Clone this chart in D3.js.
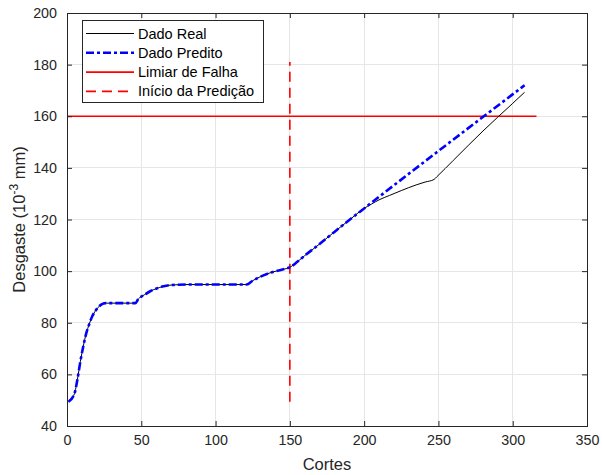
<!DOCTYPE html>
<html><head><meta charset="utf-8">
<script src="https://cdn.jsdelivr.net/npm/d3@7"></script>
<style>
body{margin:0;background:#fff;}
text{font-family:"Liberation Sans",Arial,Helvetica,sans-serif;fill:#262626;}
</style></head>
<body>
<svg id="c" width="602" height="475"></svg>
<script>
// Dado Real
const realX = [1,5,7,9,11,13,15,17,19,21,23,26,46,48,52,56,60,65,70,80,121,125,130,135,140,145,150,155,160,170,180,190,200,205,210,217,225,235,241,247,249,260,280,300,308];
const realY = [49.4,52.5,58,65,71,76,79.5,82.5,84.5,86,87,87.6,87.6,89.2,90.8,92.2,93.2,94.1,94.6,94.8,94.8,96.3,97.8,99,99.9,100.6,101.5,103.6,106,110.5,115.2,119.8,124.3,126,127.6,129.3,131.2,133.4,134.5,135.5,136.6,142.9,154.3,165.0,169.3];
// Dado Predito
const predX = [1,5,7,9,11,13,15,17,19,21,23,26,46,48,52,56,60,65,70,80,121,125,130,135,140,145,150,155,160,170,180,190,200,308];
const predY = [49.4,52.5,58,65,71,76,79.5,82.5,84.5,86,87,87.6,87.6,89.2,90.8,92.2,93.2,94.1,94.6,94.8,94.8,96.3,97.8,99,99.9,100.6,101.5,103.6,106,110.5,115.2,119.8,124.3,172];
// Limiar de Falha
const limiarX = [0,316];
const limiarY = [160,160];
// Início da Predição
const inicioX = [150,150];
const inicioY = [49.4,181];

const xTicks = [0,50,100,150,200,250,300,350];
const yTicks = [40,60,80,100,120,140,160,180,200];
const legendLabels = ["Dado Real","Dado Predito","Limiar de Falha","Início da Predição"];

const svg = d3.select("#c");
const L=67,R=587,T=13,B=426;
const x = d3.scaleLinear().domain([0,350]).range([L,R]);
const y = d3.scaleLinear().domain([40,200]).range([B,T]);

// grid
const g = svg.append("g");
g.selectAll(".gx").data(xTicks).enter().append("line")
 .attr("x1",d=>x(d)).attr("x2",d=>x(d)).attr("y1",T).attr("y2",B)
 .attr("stroke","#e6e6e6").attr("stroke-width",1).attr("shape-rendering","crispEdges");
g.selectAll(".gy").data(yTicks).enter().append("line")
 .attr("y1",d=>y(d)).attr("y2",d=>y(d)).attr("x1",L).attr("x2",R)
 .attr("stroke","#e6e6e6").attr("stroke-width",1).attr("shape-rendering","crispEdges");

const toPts = (xs,ys)=>xs.map((v,i)=>[v,ys[i]]);
const line = d3.line().x(d=>x(d[0])).y(d=>y(d[1])).curve(d3.curveMonotoneX);
const lineL = d3.line().x(d=>x(d[0])).y(d=>y(d[1]));

svg.append("path").attr("d",lineL(toPts(limiarX,limiarY)))
 .attr("fill","none").attr("stroke","#ff0000").attr("stroke-width",1.6);
svg.append("path").attr("d",lineL(toPts(inicioX,inicioY)))
 .attr("fill","none").attr("stroke","#ff0000").attr("stroke-width",1.6).attr("stroke-dasharray","10,6");
svg.append("path").attr("d",line(toPts(realX,realY)))
 .attr("fill","none").attr("stroke","#000").attr("stroke-width",1);
svg.append("path").attr("d",line(toPts(predX,predY)))
 .attr("fill","none").attr("stroke","#0000ff").attr("stroke-width",2.6).attr("stroke-dasharray","8,3,3,3");

// axes box
const ax = svg.append("g");
ax.append("rect").attr("x",L).attr("y",T).attr("width",R-L).attr("height",B-T)
 .attr("fill","none").attr("stroke","#262626").attr("stroke-width",1).attr("shape-rendering","crispEdges");
const xb = d3.axisBottom(x).tickValues(xTicks).tickSize(-5).tickPadding(9).tickFormat(d3.format("d"));
const xt = d3.axisTop(x).tickValues(xTicks).tickSize(-5).tickFormat("");
const yl = d3.axisLeft(y).tickValues(yTicks).tickSize(-5).tickPadding(10).tickFormat(d3.format("d"));
const yr = d3.axisRight(y).tickValues(yTicks).tickSize(-5).tickFormat("");
function styleAx(sel){
  sel.select(".domain").remove();
  sel.selectAll("line").attr("stroke","#262626");
  sel.selectAll("text").attr("font-size",14.3).attr("fill","#262626").style("font-family","'Liberation Sans',Arial,sans-serif");
}
ax.append("g").attr("transform",`translate(0,${B})`).call(xb).call(styleAx);
ax.append("g").attr("transform",`translate(0,${T})`).call(xt).call(styleAx);
ax.append("g").attr("transform",`translate(${L},0)`).call(yl).call(styleAx);
ax.append("g").attr("transform",`translate(${R},0)`).call(yr).call(styleAx);

// labels
svg.append("text").attr("x",(L+R)/2).attr("y",470).attr("text-anchor","middle").attr("font-size",16.5).text("Cortes");
const yt = svg.append("text").attr("transform",`translate(25,${(T+B)/2}) rotate(-90)`).attr("text-anchor","middle").attr("font-size",16.5);
yt.append("tspan").text("Desgaste (10");
yt.append("tspan").attr("dy",-7).attr("font-size",12).text("-3");
yt.append("tspan").attr("dy",7).text(" mm)");

// legend
const lg = svg.append("g");
lg.append("rect").attr("x",82.5).attr("y",20.5).attr("width",181).attr("height",82)
 .attr("fill","#fff").attr("stroke","#262626").attr("stroke-width",1);
const styles = [
 {c:"#000",w:1,d:null},
 {c:"#0000ff",w:2.6,d:"8,3,3,3"},
 {c:"#ff0000",w:1.6,d:null},
 {c:"#ff0000",w:1.6,d:"10,6"}];
legendLabels.forEach((t,i)=>{
  const yy = 33.5 + i*19.3;
  const ln = lg.append("line").attr("x1",86).attr("x2",134).attr("y1",yy).attr("y2",yy)
    .attr("stroke",styles[i].c).attr("stroke-width",styles[i].w);
  if(styles[i].d) ln.attr("stroke-dasharray",styles[i].d);
  lg.append("text").attr("x",138).attr("y",yy+5).attr("font-size",14.5).attr("fill","#000").style("fill","#000").text(t);
});
</script>
</body></html>
